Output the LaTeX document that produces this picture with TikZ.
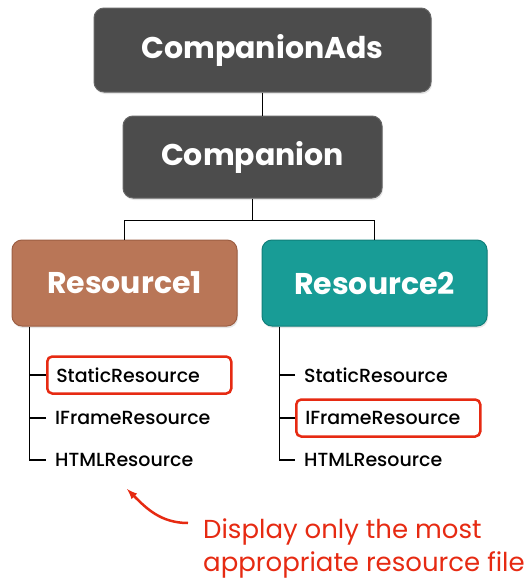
\documentclass[tikz,border=0pt]{standalone}
\usepackage{fontspec}
\setmainfont{Poppins}
\newfontfamily\moyen{Poppins Medium}
\usepackage{tikz}
\usetikzlibrary{arrows}
\usetikzlibrary{calc,shapes,shadows}
\definecolor{boite}{HTML}{4C4C4C}
\definecolor{brique}{HTML}{B97657}
\definecolor{briquef}{HTML}{9C5E43}
\definecolor{sarcelle}{HTML}{189C96}
\definecolor{sarcellef}{HTML}{107F7A}
\definecolor{rouge}{HTML}{E62A12}

\begin{document}
\begin{tikzpicture}[x=1pt,y=-1pt,
	titre/.style={rounded corners=10pt,fill=boite,draw=boite!85,line width=1pt,text=white,
		font=\fontsize{30}{36}\selectfont\bfseries,minimum height=84pt,
		drop shadow={opacity=0.2,shadow xshift=1pt,shadow yshift=-2pt}},
	item/.style={anchor=west,text width=166pt,inner xsep=9pt,minimum height=37pt,
		font=\fontsize{19}{22}\selectfont\moyen},
	choix/.style={draw=rouge,line width=2.5pt,rounded corners=5pt},
	lien/.style={line width=1.6pt}]
\useasboundingbox (0,0) rectangle (531,584);
			% Boîtes
\node[titre,minimum width=337pt] (ads) at (262.5,50) {CompanionAds};
\node[titre,minimum width=259pt,minimum height=82pt] (comp) at (252.5,157) {Companion};
\node[titre,fill=brique,draw=briquef,minimum width=225pt,minimum height=86pt] (res1) at (124.5,283) {Resource1};
\node[titre,fill=sarcelle,draw=sarcellef,minimum width=225pt,minimum height=86pt] (res2) at (374.5,283) {Resource2};
			% Fichiers
\node[item,choix] (s1) at (46,375) {StaticResource};
\node[item] (i1) at (46,418) {IFrameResource};
\node[item] (h1) at (46,460) {HTMLResource};
\node[item] (s2) at (295,375) {StaticResource};
\node[item,choix] (i2) at (295,418) {IFrameResource};
\node[item] (h2) at (295,460) {HTMLResource};
			% Liens
\draw[lien] (ads.south) -- (ads.south |- comp.north);
\draw[lien] (comp.south) -- ++(0,22) coordinate (j) -| (res1.north) (j) -| (res2.north);
\draw[lien] ($(res1.south west)+(18,0)$) |- (h1.west) (s1.west) -- ++(-16,0) (i1.west) -- ++(-16,0);
\draw[lien] ($(res2.south west)+(18,0)$) |- (h2.west) (s2.west) -- ++(-15,0) (i2.west) -- ++(-15,0);
			% Remarque
\coordinate (pointe) at (127,489);
\node[anchor=north west,align=left,text=rouge,inner sep=0pt,font=\fontsize{26}{33}\selectfont] (note) at (203,519)
	{Display only the most\\appropriate resource file};
\draw[-latex,rouge,line width=2.5pt] ($(note.north west)+(-15,4)$) to[out=180,in=-45] (pointe);
\end{tikzpicture}
\end{document}
